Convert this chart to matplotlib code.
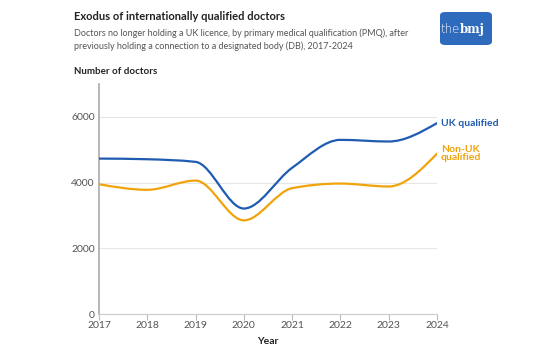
import numpy as np
import matplotlib.pyplot as plt
from matplotlib.path import Path
from matplotlib.patches import PathPatch, FancyBboxPatch

plt.rcParams['font.family'] = ['Lato', 'DejaVu Sans']

# ── Data ──────────────────────────────────────────────────────────────────────
years = [2017, 2018, 2019, 2020, 2021, 2022, 2023, 2024]
uk_qualified = [4730, 4710, 4630, 3210, 4450, 5300, 5250, 5810]
non_uk_qualified = [3950, 3780, 4060, 2850, 3830, 3970, 3880, 4880]

BLUE = "#1f5bb0"
ORANGE = "#f0a30a"
GREY = "#555555"


def monotone_path(x, y):
    # d3 curveMonotoneX as cubic Bezier segments
    x = np.asarray(x, float)
    y = np.asarray(y, float)
    n = len(x)
    h = np.diff(x)
    s = np.diff(y) / h
    t = np.zeros(n)
    for i in range(1, n - 1):
        p = (s[i - 1] * h[i] + s[i] * h[i - 1]) / (h[i - 1] + h[i])
        t[i] = (np.sign(s[i - 1]) + np.sign(s[i])) * min(abs(s[i - 1]), abs(s[i]), 0.5 * abs(p))
    t[0] = (3 * s[0] - t[1]) / 2
    t[-1] = (3 * s[-1] - t[-2]) / 2
    verts = [(x[0], y[0])]
    codes = [Path.MOVETO]
    for i in range(n - 1):
        dx = h[i] / 3
        verts += [(x[i] + dx, y[i] + dx * t[i]),
                  (x[i + 1] - dx, y[i + 1] - dx * t[i + 1]),
                  (x[i + 1], y[i + 1])]
        codes += [Path.CURVE4] * 3
    return Path(verts, codes)


fig = plt.figure(figsize=(5.4, 3.5), dpi=100)
ax = fig.add_axes([99 / 540, 1 - 314 / 350, (437 - 99) / 540, (314 - 84) / 350])

for vals, col in [(uk_qualified, BLUE), (non_uk_qualified, ORANGE)]:
    ax.add_patch(PathPatch(monotone_path(years, vals), facecolor="none",
                           edgecolor=col, lw=1.6, capstyle="round", zorder=3))

ax.set_xlim(2017, 2024)
ax.set_ylim(0, 7000)
ax.set_xticks(years)
ax.set_yticks([0, 2000, 4000, 6000])
ax.tick_params(axis="y", length=0, labelsize=7.5, labelcolor=GREY, pad=3)
ax.tick_params(axis="x", length=4, color="#bbbbbb", labelsize=7.5, labelcolor=GREY, pad=1)
ax.grid(axis="y", color="#e6e6e6", lw=0.8)
ax.set_axisbelow(True)
for side in ["top", "right"]:
    ax.spines[side].set_visible(False)
ax.spines["left"].set_color("#aaaaaa")
ax.spines["bottom"].set_color("#cccccc")
ax.spines["left"].set_linewidth(1.2)
ax.set_xlabel("Year", fontsize=7.5, fontweight="bold", color="#222222", labelpad=5)

# line labels
ax.text(2024.08, uk_qualified[-1], "UK qualified", color=BLUE, fontsize=7.5,
        fontweight="bold", va="center", ha="left", clip_on=False)
ax.text(2024.08, non_uk_qualified[-1], "Non-UK\nqualified", color=ORANGE,
        fontsize=7.5, fontweight="bold", va="center", ha="left",
        linespacing=0.95, clip_on=False)

# titles
fig.text(74 / 540, 1 - 17 / 350, "Exodus of internationally qualified doctors",
         fontsize=8, fontweight="bold", color="#222222", va="center")
fig.text(74 / 540, 1 - 39.5 / 350,
         "Doctors no longer holding a UK licence, by primary medical qualification (PMQ), after\n"
         "previously holding a connection to a designated body (DB), 2017-2024",
         fontsize=6.5, color=GREY, va="center", linespacing=1.4)
fig.text(74 / 540, 1 - 72 / 350, "Number of doctors", fontsize=7,
         fontweight="bold", color="#222222", va="center")

# logo
logo = FancyBboxPatch((440 / 540, 1 - 45 / 350), 52 / 540, 33 / 350,
                      boxstyle="round,pad=0,rounding_size=0.01",
                      transform=fig.transFigure, facecolor="#2f6bbd",
                      edgecolor="none")
fig.add_artist(logo)
fig.text(460 / 540, 1 - 29 / 350, "the", color="white", fontsize=8.5,
         ha="right", va="center", family="DejaVu Sans", fontweight="light")
fig.text(460 / 540, 1 - 29 / 350, "bmj", color="white", fontsize=8.5,
         ha="left", va="center", fontweight="bold", family="DejaVu Serif")

fig.savefig("out.png", dpi=100)
